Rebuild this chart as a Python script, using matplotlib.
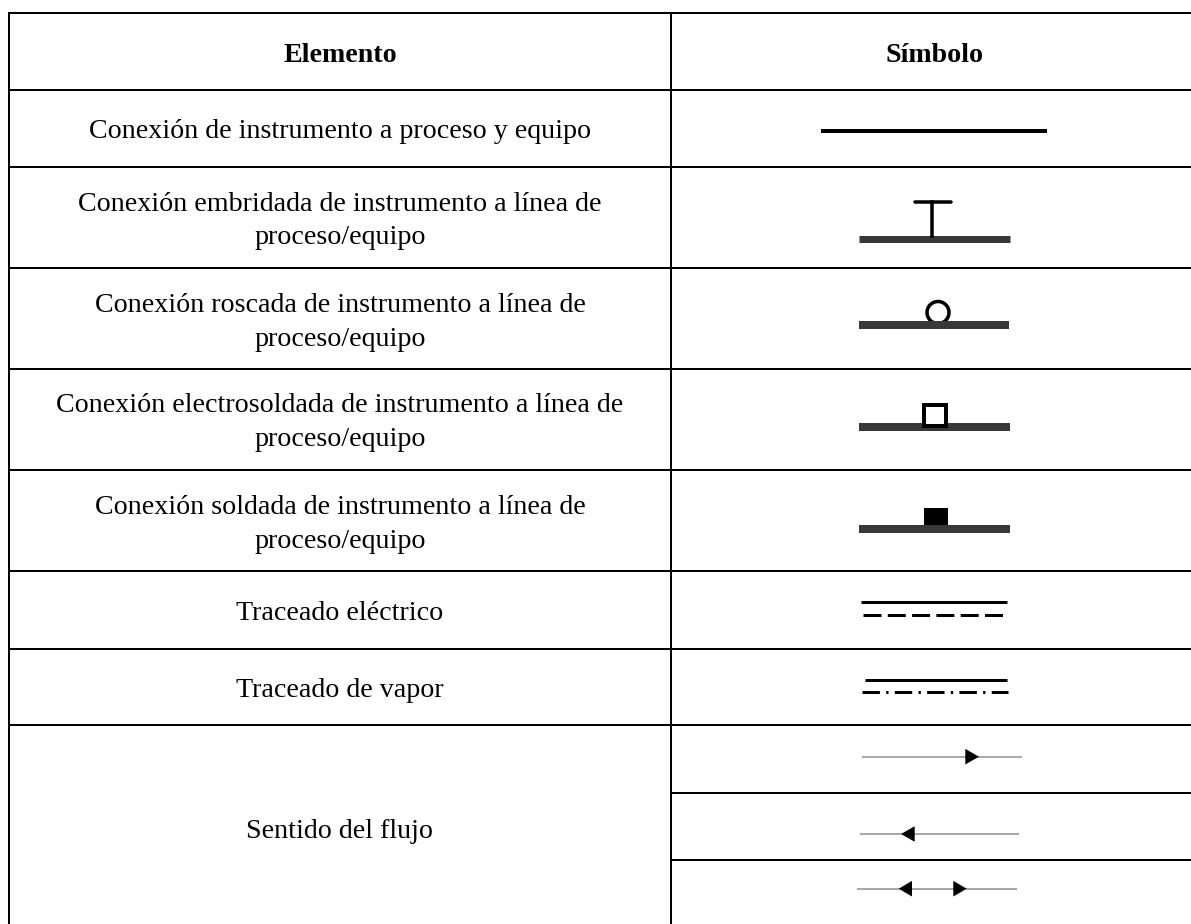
import matplotlib
matplotlib.use('Agg')
import matplotlib.pyplot as plt
from matplotlib.patches import Rectangle, Polygon, Arc

plt.rcParams['font.family'] = ['Liberation Serif', 'DejaVu Serif']

W, H = 1191, 924

headers = ['Elemento', 'Símbolo']
elementos = [
    'Conexión de instrumento a proceso y equipo',
    'Conexión embridada de instrumento a línea de\nproceso/equipo',
    'Conexión roscada de instrumento a línea de\nproceso/equipo',
    'Conexión electrosoldada de instrumento a línea de\nproceso/equipo',
    'Conexión soldada de instrumento a línea de\nproceso/equipo',
    'Traceado eléctrico',
    'Traceado de vapor',
    'Sentido del flujo',
]
# row borders in picture pixels
row_y = [12.7, 89.7, 166.7, 267.7, 369, 469.7, 570.7, 648.7, 724.7, 792.7, 859.7]
col_x = [9, 671]
# text baselines, one list per row
baselines = [[138.5], [210.7, 244], [311.7, 345.7], [412.3, 446.3], [513.7, 547.7], [620], [697.3], [838]]

fig = plt.figure(figsize=(W / 100, H / 100), dpi=100)
ax = fig.add_axes([0, 0, 1, 1])
ax.set_xlim(0, W)
ax.set_ylim(H, 0)
ax.axis('off')

px = 72 / 100  # line widths are given in pixels


def hline(x0, x1, y, lw, color='black', **kw):
    ax.plot([x0, x1], [y, y], color=color, lw=lw * px, solid_capstyle='butt', **kw)


# grid, no right or bottom border in the picture
for i, y in enumerate(row_y):
    if i in (9, 10):
        hline(col_x[1], W, y, 2)
    else:
        hline(col_x[0], W, y, 2)
for x in col_x:
    ax.plot([x, x], [row_y[0] - 1, H], color='black', lw=2 * px, solid_capstyle='butt')

# text
ax.text(340, 61.7, headers[0], ha='center', va='baseline', fontsize=20.2, fontweight='bold')
ax.text(935, 61.7, headers[1], ha='center', va='baseline', fontsize=20.2, fontweight='bold')
for t, ys in zip(elementos, baselines):
    for line, y in zip(t.split('\n'), ys):
        ax.text(340, y, line, ha='center', va='baseline', fontsize=20.2)

# symbols
pipe = '#383838'
hline(821, 1047, 131.3, 4)

hline(859, 1010, 238.5, 7, pipe)
ax.plot([915, 951], [202, 202], color='black', lw=3.5 * px, solid_capstyle='round')
ax.plot([932.3, 932.3], [202, 236], color='black', lw=3.5 * px)

ax.add_patch(Arc((938, 312.5), 22, 22, theta1=0, theta2=360, color='black', lw=3.5 * px, zorder=1))
hline(859, 1009, 324.5, 8, pipe, zorder=3)

hline(859, 1010, 427, 8, pipe)
ax.add_patch(Rectangle((924.3, 404.7), 21.4, 21.3, fc='white', ec='black', lw=4 * px, zorder=4))

hline(859, 1010, 529, 8, pipe)
ax.add_patch(Rectangle((924.3, 507.7), 23.7, 17.5, fc='black', ec='none', zorder=4))

hline(860.7, 1006.7, 601.7, 3)
ax.plot([863, 1003], [615, 615], color='black', lw=3 * px, ls=(0, (6, 2.1)))

hline(864.7, 1007.3, 679.7, 3)
dash_dot = (0, (5.8, 2.1, 0.77, 2.1))
ax.plot([862, 1008.3], [692, 692], color='black', lw=3 * px, ls=dash_dot)


def arrow(xb, xt, y, h=7.8):
    ax.add_patch(Polygon([(xb, y - h), (xb, y + h), (xt, y)], fc='black', ec='none', zorder=4))


grey = '#a9a9a9'
hline(862.3, 1022, 756.7, 2, grey)
arrow(965.3, 979, 756.7)
hline(860.3, 1019.3, 834, 2, grey)
arrow(914.7, 901, 834)
hline(857.3, 1016.7, 888.7, 2, grey)
arrow(912, 898.7, 888.7)
arrow(953.3, 966.7, 888.7)

plt.savefig('out.png', dpi=100)
